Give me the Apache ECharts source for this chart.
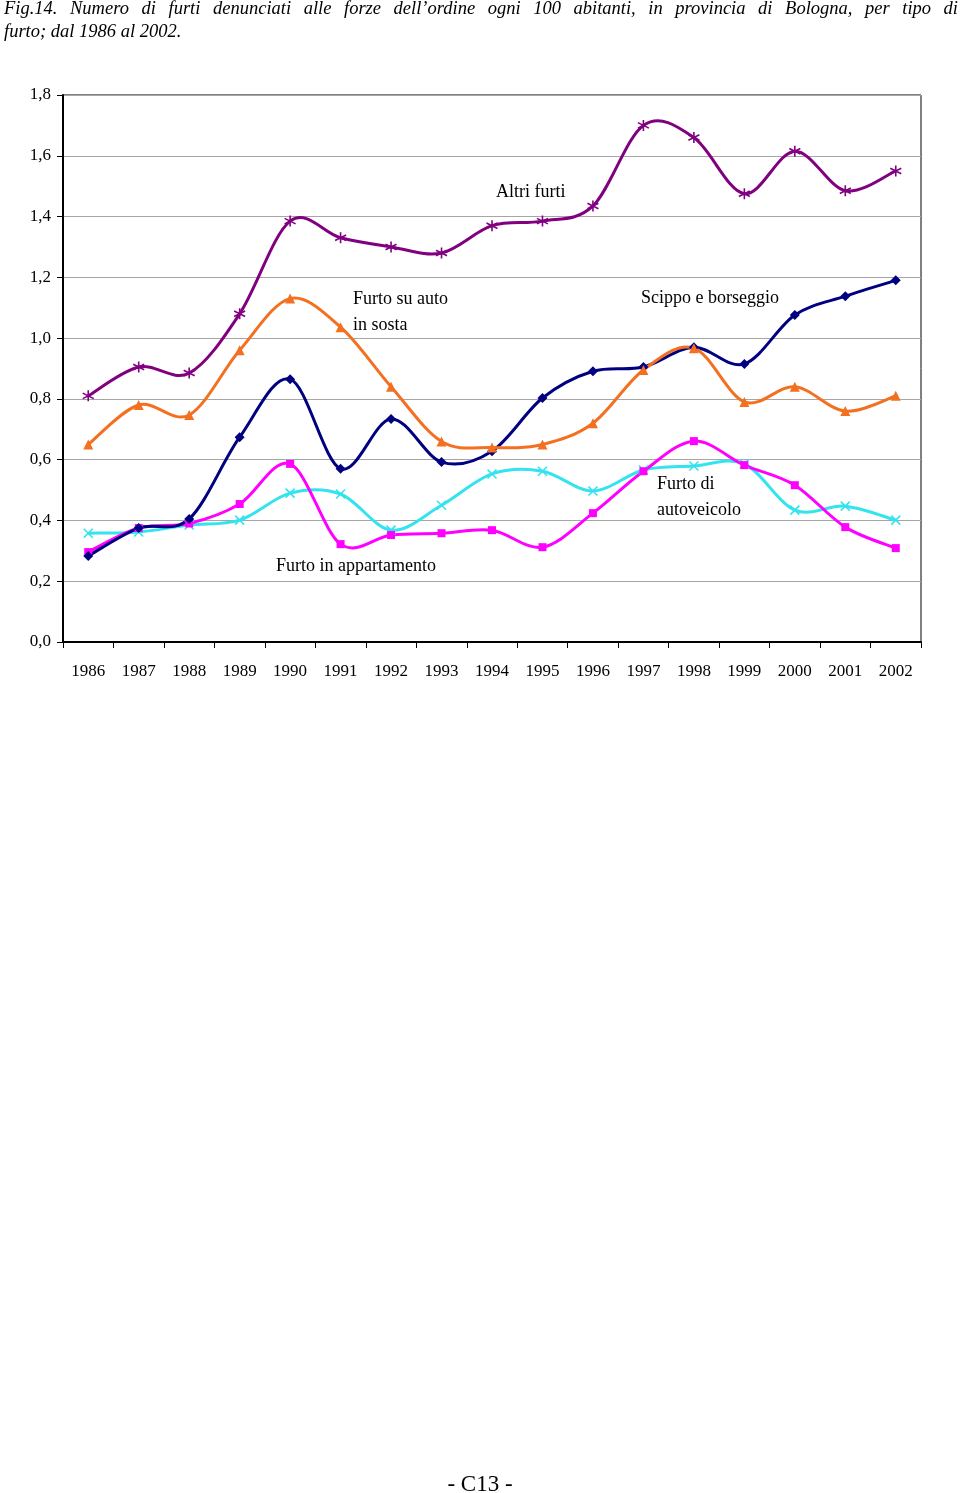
<!DOCTYPE html>
<html>
<head>
<meta charset="utf-8">
<script src="https://cdn.jsdelivr.net/npm/echarts@6/dist/echarts.min.js"></script>
<style>
html,body{margin:0;padding:0;background:#fff;}
.t{position:absolute;left:4px;width:954px;font-family:"Liberation Serif",serif;font-style:italic;font-size:18.5px;line-height:23px;color:#000;white-space:nowrap;}
#t1{top:-3px;text-align:justify;text-align-last:justify;}
#t2{top:20px;text-align:left;}
#chart{position:absolute;left:0;top:0;width:960px;height:1493px;}
#foot{position:absolute;left:0;width:960px;top:1471px;text-align:center;font-family:"Liberation Serif",serif;font-size:23px;}
</style>
</head>
<body>
<div id="chart"></div>
<div class="t" id="t1">Fig.14. Numero di furti denunciati alle forze dell’ordine ogni 100 abitanti, in provincia di Bologna, per tipo di</div>
<div class="t" id="t2">furto; dal 1986 al 2002.</div>
<div id="foot">- C13 -</div>
<script>
const years = ['1986','1987','1988','1989','1990','1991','1992','1993','1994','1995','1996','1997','1998','1999','2000','2001','2002'];
const altriFurti = [0.81,0.905,0.885,1.08,1.385,1.33,1.30,1.28,1.37,1.385,1.435,1.70,1.66,1.475,1.615,1.485,1.55];
const furtoAutoSosta = [0.65,0.78,0.747,0.96,1.13,1.036,0.84,0.66,0.64,0.65,0.72,0.895,0.967,0.79,0.84,0.76,0.81];
const scippoBorseggio = [0.283,0.375,0.405,0.674,0.865,0.57,0.734,0.592,0.628,0.803,0.891,0.905,0.97,0.915,1.076,1.138,1.19];
const furtoAppartamento = [0.296,0.375,0.39,0.454,0.586,0.322,0.352,0.358,0.368,0.312,0.424,0.562,0.661,0.582,0.516,0.378,0.309];
const furtoAutoveicolo = [0.358,0.362,0.385,0.401,0.49,0.487,0.368,0.45,0.553,0.562,0.497,0.566,0.579,0.586,0.434,0.447,0.401];

const FONT = '"Liberation Serif", "Times New Roman", serif';
const star = 'path://M0,-1L0,1M-0.87,-0.5L0.87,0.5M-0.87,0.5L0.87,-0.5';
const cross = 'path://M-1,-1L1,1M-1,1L1,-1';

// smooth curve (Excel-like Catmull-Rom) drawn through the axis scales
function curve(name, data, color){
  return {
    name: name + ' curve', type:'custom', data:[0], silent:true, z:2,
    renderItem:(params, api)=>{
      const p = data.map((v,i)=>api.coord([i, v]));
      const children = [];
      for(let i=0;i<p.length-1;i++){
        const a = p[Math.max(i-1,0)], b = p[i], c = p[i+1], d = p[Math.min(i+2,p.length-1)];
        children.push({type:'bezierCurve', shape:{
          x1:b[0], y1:b[1], x2:c[0], y2:c[1],
          cpx1:b[0]+(c[0]-a[0])/6, cpy1:b[1]+(c[1]-a[1])/6,
          cpx2:c[0]-(d[0]-b[0])/6, cpy2:c[1]-(d[1]-b[1])/6
        }, style:{stroke:color, lineWidth:3, fill:null, lineJoin:'round'}});
      }
      return {type:'group', children};
    }
  };
}
function marks(name, data, color, symbol, size, stroke){
  return {
    name, type:'line', data, z:3,
    symbol, symbolSize:size, showSymbol:true,
    lineStyle:{width:0, opacity:0},
    itemStyle: stroke ? {color:'transparent', borderColor:color, borderWidth:1.6} : {color, borderColor:color, borderWidth:0},
    emphasis:{disabled:true}, animation:false
  };
}
const defs = [
  ['Furto di autoveicolo', furtoAutoveicolo, '#33e3ee', cross, 9, true],
  ['Furto in appartamento', furtoAppartamento, '#ff00ff', 'rect', 8, false],
  ['Scippo e borseggio', scippoBorseggio, '#000080', 'diamond', 10, false],
  ['Furto su auto in sosta', furtoAutoSosta, '#f37021', 'triangle', 10, false],
  ['Altri furti', altriFurti, '#800080', star, 11, true]
];
const series = [];
defs.forEach(d=>{ series.push(curve(d[0], d[1], d[2])); series.push(marks(...d)); });

const chart = echarts.init(document.getElementById('chart'), null, {renderer:'canvas'});
chart.setOption({
  animation:false,
  grid:{left:63, right:39, top:95, bottom:851, show:true, borderColor:'#000', borderWidth:1, backgroundColor:'transparent'},
  xAxis:{
    type:'category', data:years, boundaryGap:true,
    axisLine:{lineStyle:{color:'#000', width:2}},
    axisTick:{show:true, length:6, lineStyle:{color:'#000'}},
    axisLabel:{color:'#000', fontFamily:FONT, fontSize:17, margin:21, interval:0}
  },
  yAxis:{
    type:'value', min:0, max:1.8, interval:0.2,
    axisLine:{show:true, lineStyle:{color:'#000', width:2}},
    axisTick:{show:true, length:6, lineStyle:{color:'#000'}},
    splitLine:{lineStyle:{color:'#a6a6a6', width:1}},
    axisLabel:{color:'#000', fontFamily:FONT, fontSize:17, margin:12,
      formatter:v=>v.toFixed(1).replace('.',',')}
  },
  series,
  graphic:[
    {type:'text', left:496, top:183, style:{text:'Altri furti', font:'18px '+FONT, fill:'#000'}},
    {type:'text', left:353, top:286, style:{text:'Furto su auto\nin sosta', font:'18px '+FONT, fill:'#000', lineHeight:26}},
    {type:'text', left:641, top:289, style:{text:'Scippo e borseggio', font:'18px '+FONT, fill:'#000'}},
    {type:'text', left:657, top:471, style:{text:'Furto di\nautoveicolo', font:'18px '+FONT, fill:'#000', lineHeight:26}},
    {type:'text', left:276, top:557, style:{text:'Furto in appartamento', font:'18px '+FONT, fill:'#000'}}
  ]
});
</script>
</body>
</html>
